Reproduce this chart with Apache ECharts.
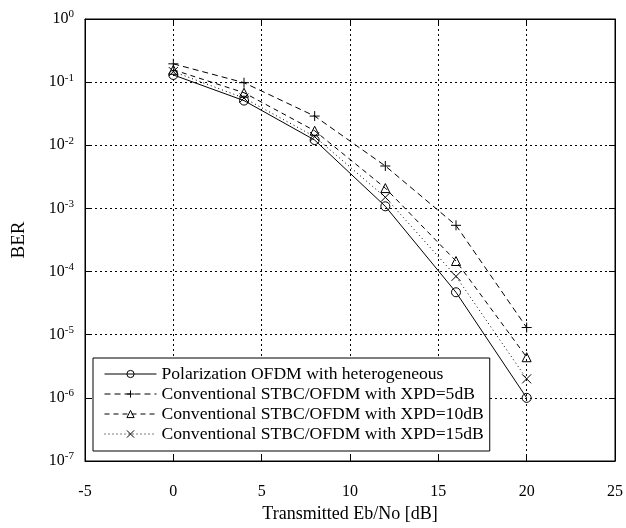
<!DOCTYPE html>
<html><head><meta charset="utf-8">
<script src="https://cdn.jsdelivr.net/npm/echarts@6/dist/echarts.min.js"></script>
<style>html,body{margin:0;padding:0;background:#fff}#c{width:626px;height:528px}</style>
</head><body><div id="c"></div>
<script>
const snr = [0, 4, 8, 12, 16, 20];
const polOFDM = [0.13, 0.051, 0.0121, 0.00108, 4.7e-5, 1.0e-6];
const xpd5 = [0.195, 0.098, 0.029, 0.0047, 5.4e-4, 1.3e-5];
const xpd10 = [0.157, 0.068, 0.017, 0.0021, 1.47e-4, 4.4e-6];
const xpd15 = [0.147, 0.056, 0.0137, 0.0015, 8.4e-5, 2.0e-6];
const seriesNames = ['Polarization OFDM with heterogeneous','Conventional STBC/OFDM with XPD=5dB','Conventional STBC/OFDM with XPD=10dB','Conventional STBC/OFDM with XPD=15dB'];
const xTicks = [-5, 0, 5, 10, 15, 20, 25];

const FONT = '"Liberation Serif", "Times New Roman", serif';
const PLUS = 'path://M5,0L5,10M0,5L10,5';
const CROSS = 'path://M0,0L10,10M10,0L0,10';
const pair = a => snr.map((x, i) => [x, a[i]]);

const mk = (name, data, symbol, size, ltype) => ({
  name, type: 'line', data: pair(data), symbol, symbolSize: size,
  showSymbol: true,
  lineStyle: { color: '#000', width: 1, type: ltype },
  itemStyle: { color: 'rgba(0,0,0,0)', borderColor: '#000', borderWidth: 1 },
  emphasis: { disabled: true }, animation: false
});

const chart = echarts.init(document.getElementById('c'), null, { renderer: 'canvas' });
const splitDot = { show: true, lineStyle: { color: '#000', type: [2, 3], width: 1 } };
chart.setOption({
  backgroundColor: '#fff',
  animation: false,
  grid: { left: 85, right: 9, top: 19, bottom: 66, show: true, borderColor: '#000', borderWidth: 1, backgroundColor: 'transparent' },
  legend: {
    orient: 'vertical', left: 93, top: 358,
    data: seriesNames,
    itemWidth: 52, itemHeight: 9, itemGap: 2,
    padding: [7, 6, 8, 11],
    borderColor: '#000', borderWidth: 1, backgroundColor: '#fff',
    lineStyle: { width: 1, color: '#000' },
    itemStyle: { borderWidth: 1, borderColor: '#000' },
    textStyle: { fontFamily: FONT, fontSize: 17.6, color: '#000', lineHeight: 18 }
  },
  xAxis: [{
    type: 'value', min: -5, max: 25, interval: 5,
    name: 'Transmitted Eb/No [dB]', nameLocation: 'middle', nameGap: 44,
    nameTextStyle: { fontFamily: FONT, fontSize: 18, color: '#000' },
    axisLine: { onZero: false, lineStyle: { color: '#000' } },
    axisTick: { inside: true, length: 6, lineStyle: { color: '#000' } },
    axisLabel: { fontFamily: FONT, fontSize: 16, color: '#000', margin: 23,
      formatter: v => xTicks.includes(v) ? String(v) : '' },
    splitLine: splitDot
  }, {
    type: 'value', min: -5, max: 25, interval: 5, position: 'top',
    axisLine: { onZero: false, lineStyle: { color: '#000' } },
    axisTick: { inside: true, length: 6, lineStyle: { color: '#000' } },
    axisLabel: { show: false }, splitLine: { show: false }
  }],
  yAxis: [{
    type: 'log', logBase: 10, min: 1e-7, max: 1, interval: 1,
    name: 'BER', nameLocation: 'middle', nameGap: 56, nameRotate: 90,
    nameTextStyle: { fontFamily: FONT, fontSize: 19, color: '#000' },
    axisLine: { onZero: false, lineStyle: { color: '#000' } },
    axisTick: { inside: true, length: 6, lineStyle: { color: '#000' } },
    minorTick: { show: false },
    axisLabel: {
      fontFamily: FONT, color: '#000', margin: 11,
      formatter: v => '{b|10}{s|' + Math.round(Math.log10(v)) + '}',
      rich: {
        b: { fontFamily: FONT, fontSize: 16, color: '#000' },
        s: { fontFamily: FONT, fontSize: 11, color: '#000', padding: [0, 0, 9, 0] }
      }
    },
    splitLine: splitDot
  }, {
    type: 'log', logBase: 10, min: 1e-7, max: 1, interval: 1, position: 'right',
    axisLine: { onZero: false, lineStyle: { color: '#000' } },
    axisTick: { inside: true, length: 6, lineStyle: { color: '#000' } },
    axisLabel: { show: false }, splitLine: { show: false }
  }],
  series: [
    mk(seriesNames[0], polOFDM, 'circle', 9, 'solid'),
    mk(seriesNames[1], xpd5, PLUS, 10, [6, 4]),
    mk(seriesNames[2], xpd10, 'triangle', 9, [5, 4]),
    mk(seriesNames[3], xpd15, CROSS, 9, [1, 3])
  ]
});
</script></body></html>
